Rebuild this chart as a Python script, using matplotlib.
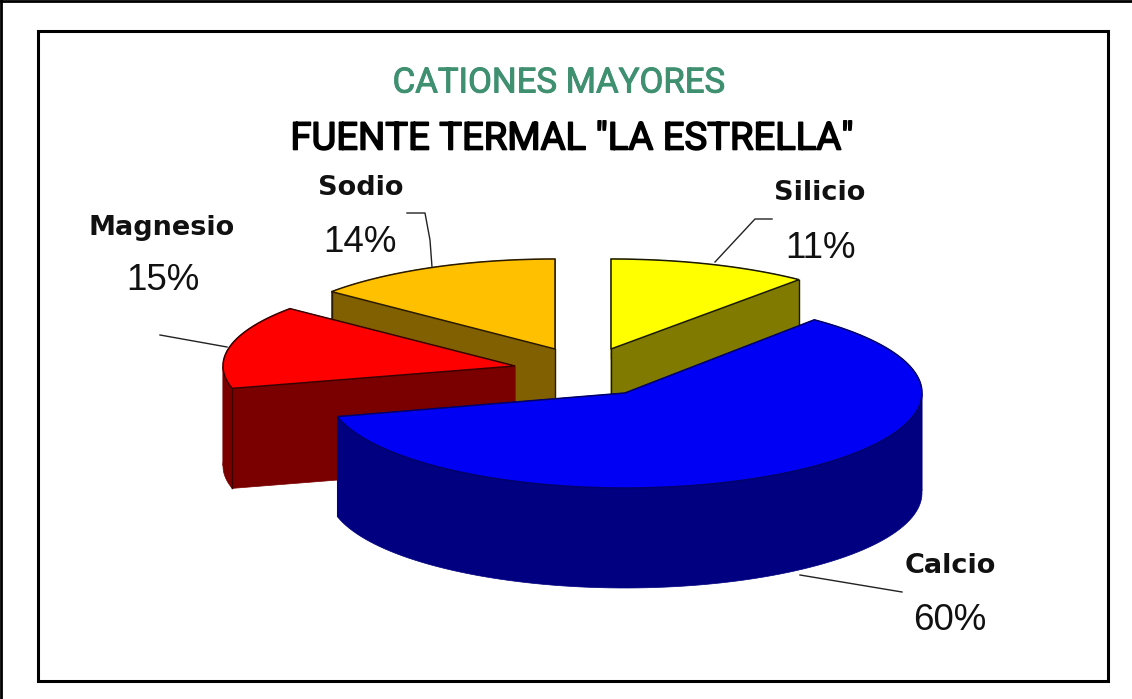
import numpy as np
from matplotlib import pyplot as plt
from matplotlib import patheffects as pe
from matplotlib.patches import Rectangle

categorias = ['Silicio', 'Calcio', 'Magnesio', 'Sodio']
valores = [11, 60, 15, 14]
titulo = 'CATIONES MAYORES'
subtitulo = 'FUENTE TERMAL "LA ESTRELLA"'

culoriTop = ['#ffff00', '#0000f5', '#ff0000', '#ffc000']
culoriLat = ['#807a00', '#000080', '#7a0000', '#806000']
culoriMargine = ['#1a1a00', '#00006a', '#3a0000', '#2a1a00']

# geometry of each exploded wedge, in pixels
centre = [(611, 349), (625, 393), (515, 366), (555, 349)]
rx = [295, 297, 292, 290]
ry = [90, 95, 90, 90]
adancime = 100
ordine = [3, 0, 2, 1]  # back to front

# name position, percent position, leader line
pozNume = [(820, 193), (950, 566), (162, 228), (361, 188)]
pozProc = [(820, 248), (950, 620), (163, 281), (360, 242)]
lideri = [[(715, 262), (755, 219), (772, 219)],
          [(800, 575), (902, 592)],
          [(227, 347), (160, 335)],
          [(432, 267), (430, 240), (425, 213), (407, 213)]]


def felie(c, a, b, start, stop):
  """Points of the top of a wedge, angles clockwise from 12 o'clock."""
  t = np.radians(np.linspace(start, stop, 120))
  return c[0] + a * np.sin(t), c[1] - b * np.cos(t)


fig = plt.figure(figsize=(11.32, 6.99), dpi=100)
ax = fig.add_axes([0, 0, 1, 1])
ax.set_xlim(0, 1132)
ax.set_ylim(699, 0)
ax.axis('off')

# outer edges of the image and inner frame
ax.plot([1, 1], [699, 1], color='black', lw=2)
ax.plot([1, 1132], [1, 1], color='black', lw=2)
ax.add_patch(Rectangle((38, 31), 1070, 650, fill=False, ec='black', lw=2.2))

limite = np.cumsum([0] + valores) * 3.6
z = 2
for i in ordine:
  c = centre[i]
  x, y = felie(c, rx[i], ry[i], limite[i], limite[i + 1])
  px = np.r_[c[0], x, c[0]]
  py = np.r_[c[1], y, c[1]]
  # walls: the two flat cuts and the curved band
  for xa, ya, xb, yb in [(c[0], c[1], x[0], y[0]), (c[0], c[1], x[-1], y[-1])]:
    ax.fill([xa, xb, xb, xa], [ya, yb, yb + adancime, ya + adancime],
            color=culoriLat[i], lw=0.5, zorder=z)
  # the band folds at the far left and right, so cut it there
  cut = np.where(np.diff(np.sign(np.diff(x))) != 0)[0] + 1
  for xs, ys in zip(np.split(x, cut), np.split(y, cut)):
    ax.fill(np.r_[xs, xs[::-1]], np.r_[ys, ys[::-1] + adancime],
            color=culoriLat[i], lw=0.5, zorder=z)
  # only the corners that can be seen get a dark vertical edge
  colturi = {0: [(c[0], c[1]), (x[-1], y[-1])], 1: [],
             2: [(x[0], y[0])], 3: [(c[0], c[1]), (x[0], y[0])]}[i]
  for xv, yv in colturi:
    ax.plot([xv, xv], [yv, yv + adancime], color=culoriMargine[i], lw=1,
            zorder=z)
  ax.fill(px, py, facecolor=culoriTop[i], edgecolor=culoriMargine[i], lw=1.1,
          zorder=z)
  z += 1

for i in range(len(valores)):
  ax.plot(*zip(*lideri[i]), color='#222222', lw=1, zorder=z)
  ax.text(*pozNume[i], categorias[i], family='DejaVu Sans', weight='bold',
          fontsize=19.5, ha='center', va='center', color='#111111')
  ax.text(*pozProc[i], '%d%%' % valores[i], family='Liberation Sans',
          fontsize=26.5, ha='center', va='center', color='#111111')

verde = '#3f9070'
ax.text(559, 83, titulo, family='Roboto', fontsize=25,
        ha='center', va='center', color=verde,
        path_effects=[pe.withStroke(linewidth=0.7, foreground=verde)])
ax.text(572, 139, subtitulo, family='Roboto', fontsize=27.5,
        ha='center', va='center', color='black',
        path_effects=[pe.withStroke(linewidth=1.2, foreground='black')])

fig.savefig('out.png', dpi=100)
